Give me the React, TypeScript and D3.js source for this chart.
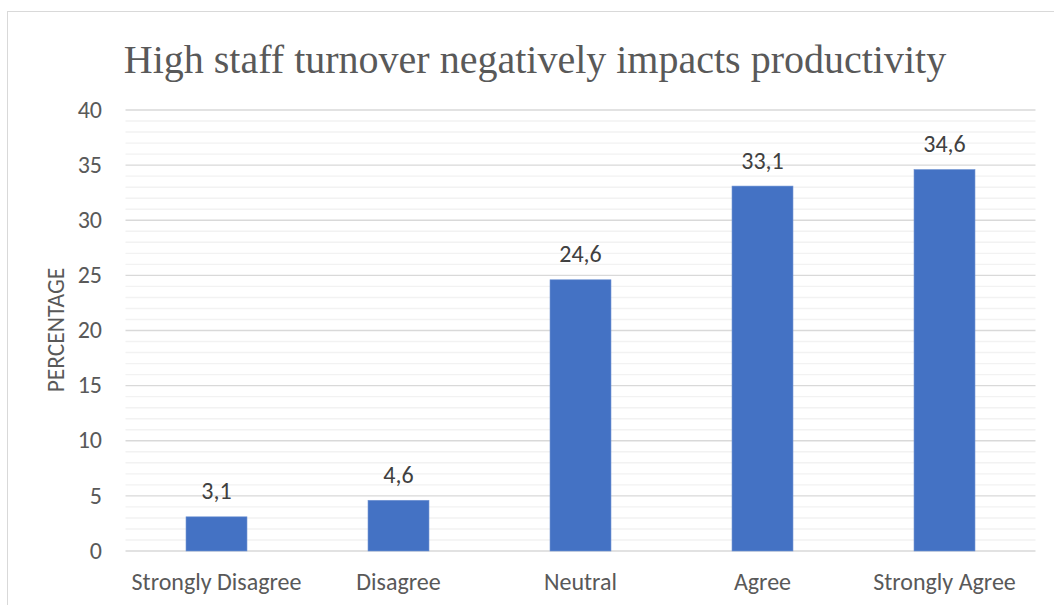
import React from "react";
import * as d3 from "d3";

const categories = ["Strongly Disagree", "Disagree", "Neutral", "Agree", "Strongly Agree"];
const values = [3.1, 4.6, 24.6, 33.1, 34.6];
const valueLabels = ["3,1", "4,6", "24,6", "33,1", "34,6"];
const yTicks = [0, 5, 10, 15, 20, 25, 30, 35, 40];
const minorTicks = d3.range(0, 41, 1);
const title = "High staff turnover negatively impacts productivity";
const yTitle = "PERCENTAGE";

export default function App() {
  const W = 1054, H = 605;
  const left = 125.5, right = 1035.5, top = 110, bottom = 551;
  const x = d3.scaleBand<string>().domain(categories).range([left, right]).paddingInner(0.665).paddingOuter(0.3325);
  const y = d3.scaleLinear().domain([0, 40]).range([bottom, top]);
  const font = "Carlito, Calibri, Lato, sans-serif";
  return (
    <svg width={W} height={H} style={{ position: "absolute", left: 0, top: 0 }}>
      <rect x={0} y={0} width={W} height={H} fill="#fff" />
      <rect x={7.5} y={11.5} width={1070} height={620} fill="#fff" stroke="#d9d9d9" />
      <text x={535} y={72.5} textAnchor="middle" fontFamily="'Liberation Serif', 'Times New Roman', serif" fontSize={40} fill="#595959">{title}</text>
      {minorTicks.filter(t => t % 5 !== 0).map(t => (
        <line key={"m" + t} x1={left} x2={right} y1={y(t)} y2={y(t)} stroke="#f2f2f2" strokeWidth={1.4} />
      ))}
      {yTicks.map(t => (
        <line key={"g" + t} x1={left} x2={right} y1={y(t)} y2={y(t)} stroke="#d9d9d9" strokeWidth={1.4} />
      ))}
      {yTicks.map(t => (
        <text key={"t" + t} x={102} y={y(t)} dy="0.32em" textAnchor="end" fontFamily={font} fontSize={24} fill="#595959">{t}</text>
      ))}
      <text transform={`translate(64,${330}) rotate(-90)`} textAnchor="middle" fontFamily={font} fontSize={23.5} fill="#595959">{yTitle}</text>
      {categories.map((c, i) => (
        <g key={c}>
          <rect x={x(c)} y={y(values[i])} width={x.bandwidth()} height={y(0) - y(values[i])} fill="#4472c4" stroke="#6f93d3" strokeWidth={0.6} />
          <text x={x(c)! + x.bandwidth() / 2} y={y(values[i]) - 17.5} textAnchor="middle" fontFamily={font} fontSize={24} fill="#404040">{valueLabels[i]}</text>
          <text x={x(c)! + x.bandwidth() / 2} y={590} textAnchor="middle" fontFamily={font} fontSize={24} fill="#595959">{c}</text>
        </g>
      ))}
    </svg>
  );
}
